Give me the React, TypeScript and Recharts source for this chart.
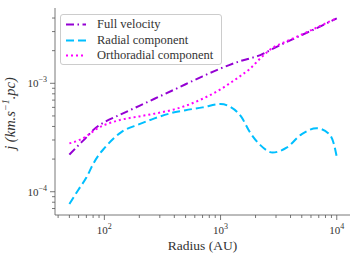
import { LineChart, Line, XAxis, YAxis } from 'recharts'

// radius in AU
const radius = [50, 60, 70, 80, 90, 100, 140, 200, 270, 400, 500, 700, 1000, 1200, 1500, 1800, 2200, 2800, 3700, 5000, 6700, 8500, 9400, 10000]

const fullVelocity = [2.2e-4, 2.69e-4, 3.17e-4, 3.7e-4, 4.1e-4, 4.38e-4, 5.2e-4, 6.2e-4, 7.2e-4, 8.75e-4, 9.8e-4, 1.16e-3, 1.37e-3, 1.48e-3, 1.61e-3, 1.7e-3, 1.82e-3, 2.08e-3, 2.4e-3, 2.79e-3, 3.22e-3, 3.65e-3, 3.85e-3, 3.98e-3]
const radialComp = [7.7e-5, 1.05e-4, 1.35e-4, 1.8e-4, 2.2e-4, 2.52e-4, 3.55e-4, 4.2e-4, 4.75e-4, 5.4e-4, 5.65e-4, 6.0e-4, 6.45e-4, 6.1e-4, 4.95e-4, 3.5e-4, 2.69e-4, 2.3e-4, 2.55e-4, 3.4e-4, 3.85e-4, 3.45e-4, 2.8e-4, 2.1e-4]
const orthoComp = [2.79e-4, 2.98e-4, 3.25e-4, 3.6e-4, 3.92e-4, 4.12e-4, 4.62e-4, 4.95e-4, 5.25e-4, 5.75e-4, 6.2e-4, 7.2e-4, 8.8e-4, 1.0e-3, 1.18e-3, 1.37e-3, 1.7e-3, 2.12e-3, 2.44e-3, 2.82e-3, 3.26e-3, 3.68e-3, 3.87e-3, 3.99e-3]

const xTicks = [40, 50, 60, 70, 80, 90, 100, 200, 300, 400, 500, 600, 700, 800, 900, 1000, 2000, 3000, 4000, 5000, 6000, 7000, 8000, 9000, 10000]
const yTicks = [7e-5, 8e-5, 9e-5, 1e-4, 2e-4, 3e-4, 4e-4, 5e-4, 6e-4, 7e-4, 8e-4, 9e-4, 1e-3, 2e-3, 3e-3, 4e-3]

const data = radius.map((r, i) => ({
  r,
  full: fullVelocity[i],
  radial: radialComp[i],
  ortho: orthoComp[i],
}))

const FONT = '"Liberation Serif", "DejaVu Serif", serif'
const TEXT = '#333'
const SPINE = '#555'

const isMajor = (v: number) => Math.abs(Math.log10(v) - Math.round(Math.log10(v))) < 1e-6
const expOf = (v: number) => Math.round(Math.log10(v))

const XTick = ({ x, y, payload }: any) => {
  const v = payload.value
  const major = isMajor(v)
  return (
    <g>
      <line x1={x} x2={x} y1={y} y2={y + (major ? 5 : 3)} stroke={SPINE} strokeWidth={0.8} />
      {major && (
        <text x={x} y={y + 19} textAnchor="middle" fontFamily={FONT} fontSize={11} fill={TEXT}>
          10<tspan dy={-5} fontSize={8}>{expOf(v)}</tspan>
        </text>
      )}
    </g>
  )
}

const YTick = ({ x, y, payload }: any) => {
  const v = payload.value
  const major = isMajor(v)
  return (
    <g>
      <line x1={x} x2={x - (major ? 5 : 3)} y1={y} y2={y} stroke={SPINE} strokeWidth={0.8} />
      {major && (
        <text x={x - 8} y={y + 4} textAnchor="end" fontFamily={FONT} fontSize={11} fill={TEXT}>
          10<tspan dy={-5} fontSize={8}>{'\u2212' + Math.abs(expOf(v))}</tspan>
        </text>
      )}
    </g>
  )
}

// y axis title with a real superscript
const YLabel = ({ viewBox }: any) => {
  const cx = 15
  const cy = viewBox ? viewBox.y + viewBox.height / 2 + 2 : 114
  return (
    <text
      x={cx}
      y={cy}
      transform={`rotate(-90, ${cx}, ${cy})`}
      textAnchor="middle"
      fontFamily={FONT}
      fontStyle="italic"
      fontSize={14.5}
      fill={TEXT}
    >
      j (km.s<tspan dy={-6} fontSize={10}>{'\u22121'}</tspan><tspan dy={6}>.pc)</tspan>
    </text>
  )
}

const legendItems = [
  { name: 'Full velocity', color: '#9400D3', dash: '8 3.5 1.5 3.5' },
  { name: 'Radial component', color: '#00BFFF', dash: '8 4' },
  { name: 'Orthoradial component', color: '#FF00FF', dash: '2 3' },
]

export default function App() {
  const xDomain = [37.6, 13000]
  const yDomain = [6.1e-5, 4.95e-3]
  return (
    <div style={{ position: 'absolute', left: 0, top: 0, width: 355, height: 254, background: '#fff' }}>
      <LineChart width={355} height={254} data={data} margin={{ top: 8, right: 5, bottom: 0, left: 0 }}>
        <XAxis
          dataKey="r"
          type="number"
          scale="log"
          domain={xDomain}
          allowDataOverflow
          ticks={xTicks}
          interval={0}
          height={39}
          tickSize={0}
          tickMargin={0}
          tickLine={false}
          tick={<XTick />}
          axisLine={{ stroke: SPINE, strokeWidth: 0.8 }}
          label={{ value: 'Radius (AU)', position: 'insideBottom', offset: 4, fontFamily: FONT, fontSize: 13.5, fill: TEXT }}
        />
        <XAxis xAxisId="top" orientation="top" dataKey="r" type="number" scale="log" domain={xDomain} allowDataOverflow height={0} tick={false} tickLine={false} axisLine={{ stroke: SPINE, strokeWidth: 0.8 }} />
        <YAxis
          type="number"
          scale="log"
          domain={yDomain}
          allowDataOverflow
          ticks={yTicks}
          interval={0}
          width={55}
          tickSize={0}
          tickMargin={0}
          tickLine={false}
          tick={<YTick />}
          axisLine={{ stroke: SPINE, strokeWidth: 0.8 }}
          label={<YLabel />}
        />
        <YAxis yAxisId="right" orientation="right" type="number" scale="log" domain={yDomain} allowDataOverflow width={0} tick={false} tickLine={false} axisLine={{ stroke: SPINE, strokeWidth: 0.8 }} />
        <Line type="monotone" dataKey="full" stroke="#9400D3" strokeWidth={2} strokeDasharray="8 3.5 1.5 3.5" dot={false} isAnimationActive={false} />
        <Line type="monotone" dataKey="radial" stroke="#00BFFF" strokeWidth={2} strokeDasharray="8 4" dot={false} isAnimationActive={false} />
        <Line type="monotone" dataKey="ortho" stroke="#FF00FF" strokeWidth={2} strokeDasharray="2 3" dot={false} isAnimationActive={false} />
      </LineChart>
      <div
        style={{
          position: 'absolute', left: 60, top: 14, width: 160, height: 49,
          border: '1px solid #ccc', borderRadius: 3, background: 'rgba(255,255,255,0.8)',
          fontFamily: FONT, fontSize: 12.5, color: TEXT,
        }}
      >
        {legendItems.map((it, i) => (
          <div key={it.name} style={{ position: 'absolute', left: 0, top: 2 + i * 15.5, height: 15, display: 'flex', alignItems: 'center', whiteSpace: 'nowrap' }}>
            <svg width={36} height={15} style={{ display: 'block' }}>
              <line x1={5} x2={25} y1={7.5} y2={7.5} stroke={it.color} strokeWidth={2} strokeDasharray={it.dash} />
            </svg>
            <span>{it.name}</span>
          </div>
        ))}
      </div>
    </div>
  )
}
